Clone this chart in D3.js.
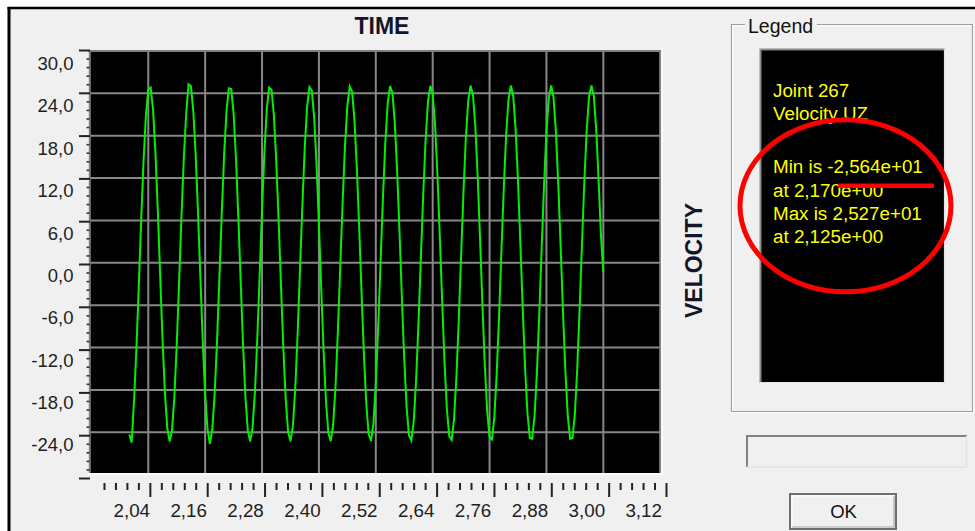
<!DOCTYPE html>
<html>
<head>
<meta charset="utf-8">
<script src="https://cdn.jsdelivr.net/npm/d3@7"></script>
<style>
  html, body { margin: 0; padding: 0; background: #ffffff; }
  svg { display: block; font-family: "Liberation Sans", Arial, sans-serif; }
</style>
</head>
<body>
<svg id="chart" width="975" height="531"></svg>
<script>
// Joint 267 vertical velocity history, sampled every 0.005 s from t = 2.000 s
const sampleStart = 2.0;
const sampleStep = 0.005;
const velocity = [
  -24.30, -25.45, -19.38, -12.17, -3.30, 5.97, 14.40, 20.87, 24.51, 24.81, 21.74, 15.71, 7.55, -1.65, -10.69, -18.28, -23.37,
  -25.29, -23.77, -19.02, -11.68, -2.75, 6.50, 14.84, 21.17, 25.27, 25.02, 21.46, 15.28, 7.02, -2.21, -11.19, -18.65, -23.58,
  -25.64, -23.58, -18.65, -11.19, -2.21, 7.02, 15.28, 21.46, 24.72, 24.62, 21.17, 14.84, 6.50, -2.75, -11.68, -19.02, -23.77,
  -25.29, -23.37, -18.28, -10.69, -1.65, 7.55, 15.71, 21.74, 24.81, 24.51, 20.87, 14.40, 5.97, -3.30, -12.17, -19.38, -23.96,
  -25.28, -23.16, -17.89, -10.19, -1.10, 8.07, 16.13, 22.01, 24.89, 24.38, 20.56, 13.94, 5.43, -3.85, -12.65, -19.73, -24.13,
  -25.25, -22.93, -17.50, -9.68, -0.55, 8.58, 16.55, 22.26, 24.95, 24.24, 20.24, 13.49, 4.90, -4.39, -13.13, -20.07, -24.29,
  -25.20, -22.69, -17.09, -9.17, 0.00, 9.10, 16.96, 22.51, 25.00, 24.10, 19.91, 13.02, 4.36, -4.94, -13.59, -20.40, -24.44,
  -25.15, -22.44, -16.68, -8.65, 0.55, 9.61, 17.36, 22.75, 25.05, 23.94, 19.57, 12.55, 3.82, -5.48, -14.06, -20.72, -24.58,
  -25.08, -22.18, -16.26, -8.13, 1.09, 10.11, 17.75, 22.97, 25.08, 23.77, 19.23, 12.07, 3.28, -6.01, -14.51, -21.04, -24.70,
  -25.01, -21.91, -15.84, -7.61, 1.64, 10.61, 18.13, 23.19, 25.09, 23.59, 18.87, 11.59, 2.73, -6.55, -14.96, -21.34, -24.81,
  -24.92, -21.63, -15.40, -7.08, 2.19, 11.10, 18.51, 23.39, 25.10, 23.39, 18.51, 11.10, 2.19, -7.08, -15.40, -21.63, -24.92,
  -24.81, -21.34, -14.96, -6.55, 2.73, 11.59, 18.87, 23.59, 25.09, 23.60, 18.90, 11.80, 3.90, -1.30
];

const yTickValues = [30, 24, 18, 12, 6, 0, -6, -12, -18, -24];
const yTickLabels = ["30,0", "24,0", "18,0", "12,0", "6,0", "0,0", "-6,0", "-12,0", "-18,0", "-24,0"];
const xTickValues = [2.04, 2.16, 2.28, 2.40, 2.52, 2.64, 2.76, 2.88, 3.00, 3.12];
const xTickLabels = ["2,04", "2,16", "2,28", "2,40", "2,52", "2,64", "2,76", "2,88", "3,00", "3,12"];
const xDomain = [1.92, 3.12];
const yDomain = [-30, 30];
const titleText = "TIME";
const yTitleText = "VELOCITY";
const legendTitle = "Legend";
const legendHeader = ["Joint 267", "Velocity UZ"];
const buttonText = "OK";

const svg = d3.select("#chart");

// window background and frame
svg.append("rect").attr("width", 975).attr("height", 531).attr("fill", "#ffffff");
svg.append("rect").attr("x", 9).attr("y", 8).attr("width", 966).attr("height", 523).attr("fill", "#f0f0f0");
svg.append("line").attr("x1", 7.5).attr("x2", 975).attr("y1", 8).attr("y2", 8)
  .attr("stroke", "#000").attr("stroke-width", 2.5);
svg.append("line").attr("x1", 9).attr("x2", 9).attr("y1", 7).attr("y2", 531)
  .attr("stroke", "#000").attr("stroke-width", 3);

// scales: data placement and the (slightly wider) tick rulers
const x = d3.scaleLinear().domain(xDomain).range([91.4, 660.2]);
const y = d3.scaleLinear().domain(yDomain).range([474.7, 50.9]);
const xRuler = d3.scaleLinear().domain(xDomain).range([92.5, 666]);
const yRuler = d3.scaleLinear().domain(yDomain).range([478, 50]);

// plot background
const plotL = 89, plotR = 661, plotT = 50, plotB = 473;
svg.append("rect").attr("x", plotL).attr("y", plotT).attr("width", plotR - plotL).attr("height", plotB - plotT)
  .attr("fill", "#000");

// grid
const grid = svg.append("g").attr("stroke", "#878787").attr("stroke-width", 2);
grid.selectAll("line.h").data(yTickValues.filter(v => v !== 30)).join("line")
  .attr("x1", plotL).attr("x2", plotR).attr("y1", d => y(d)).attr("y2", d => y(d));
grid.selectAll("line.v").data(xTickValues).join("line")
  .attr("x1", d => x(d)).attr("x2", d => x(d)).attr("y1", plotT).attr("y2", plotB);

// sunken border of the plot
svg.append("line").attr("x1", plotL - 1).attr("x2", plotR).attr("y1", 51).attr("y2", 51)
  .attr("stroke", "#7f7f7f").attr("stroke-width", 2);
svg.append("line").attr("x1", 89.8).attr("x2", 89.8).attr("y1", 50).attr("y2", plotB)
  .attr("stroke", "#7f7f7f").attr("stroke-width", 2);
svg.append("line").attr("x1", plotL - 1).attr("x2", 663).attr("y1", 474).attr("y2", 474)
  .attr("stroke", "#ffffff").attr("stroke-width", 1.5);
svg.append("line").attr("x1", 662).attr("x2", 662).attr("y1", 48).attr("y2", 475)
  .attr("stroke", "#ffffff").attr("stroke-width", 1.5);

// velocity trace
const samples = velocity.map((v, i) => ({ t: sampleStart + i * sampleStep, v }));
svg.append("defs").append("clipPath").attr("id", "plotClip")
  .append("rect").attr("x", 91).attr("y", 52).attr("width", plotR - 91).attr("height", plotB - 52);
svg.append("path")
  .datum(samples)
  .attr("clip-path", "url(#plotClip)")
  .attr("fill", "none")
  .attr("stroke", "#00f000")
  .attr("stroke-width", 2)
  .attr("stroke-linejoin", "miter")
  .attr("d", d3.line().x(d => x(d.t)).y(d => y(d.v)));

// y ruler ticks
const yMinor = d3.range(0, 51).map(i => -30 + i * 1.2).filter((v, i) => i % 5 !== 0);
const yMajor = d3.range(0, 11).map(i => -30 + i * 6);
svg.append("g").attr("transform", "translate(90,0)")
  .call(d3.axisLeft(yRuler).tickValues(yMajor).tickSize(11).tickFormat(""))
  .call(s => s.select(".domain").remove())
  .call(s => s.selectAll("line").attr("stroke", "#222").attr("stroke-width", 2));
svg.append("g").attr("transform", "translate(89.5,0)")
  .call(d3.axisLeft(yRuler).tickValues(yMinor).tickSize(3).tickFormat(""))
  .call(s => s.select(".domain").remove())
  .call(s => s.selectAll("line").attr("stroke", "#333").attr("stroke-width", 1.6));

// y labels
svg.append("g").selectAll("text").data(yTickValues).join("text")
  .attr("x", 73.5).attr("y", d => y(d) + 12.5).attr("dy", "0.36em")
  .attr("text-anchor", "end").attr("font-size", 18.5).attr("fill", "#1e1e1e")
  .text((d, i) => yTickLabels[i]);

// x ruler ticks
const xMinor = d3.range(1, 50).filter(i => i % 5 !== 0).map(i => xDomain[0] + i * 0.024);
svg.append("g").attr("transform", "translate(0,483)")
  .call(d3.axisBottom(xRuler).tickValues(xTickValues).tickSize(14).tickFormat(""))
  .call(s => s.select(".domain").remove())
  .call(s => s.selectAll("line").attr("stroke", "#222").attr("stroke-width", 2));
svg.append("g").attr("transform", "translate(0,483)")
  .call(d3.axisBottom(xRuler).tickValues(xMinor).tickSize(7).tickFormat(""))
  .call(s => s.select(".domain").remove())
  .call(s => s.selectAll("line").attr("stroke", "#222").attr("stroke-width", 2));

// x labels
svg.append("g").selectAll("text").data(xTickValues).join("text")
  .attr("x", d => x(d) - 16.5).attr("y", 516.5)
  .attr("text-anchor", "middle").attr("font-size", 18.8).attr("fill", "#1e1e1e")
  .text((d, i) => xTickLabels[i]);

// titles
svg.append("text").attr("x", 382).attr("y", 34).attr("text-anchor", "middle")
  .attr("font-size", 23).attr("font-weight", "bold").attr("fill", "#15152a").text(titleText);
svg.append("text").attr("transform", "translate(701.5,260.5) rotate(-90)").attr("text-anchor", "middle")
  .attr("font-size", 23).attr("font-weight", "bold").attr("fill", "#15152a").text(yTitleText);

// legend group box
const gb = d3.path();
gb.moveTo(745, 24.5); gb.lineTo(731.5, 24.5); gb.lineTo(731.5, 411.5);
gb.lineTo(972.5, 411.5); gb.lineTo(972.5, 24.5); gb.lineTo(817, 24.5);
svg.append("path").attr("d", gb.toString()).attr("fill", "none").attr("stroke", "#a0a0a0").attr("stroke-width", 1.2);
const gb2 = d3.path();
gb2.moveTo(745, 25.7); gb2.lineTo(732.7, 25.7); gb2.lineTo(732.7, 410.3);
gb2.moveTo(730.5, 412.7); gb2.lineTo(973.7, 412.7); gb2.lineTo(973.7, 23.5);
gb2.moveTo(971.3, 25.7); gb2.lineTo(817, 25.7);
svg.append("path").attr("d", gb2.toString()).attr("fill", "none").attr("stroke", "#ffffff").attr("stroke-width", 1);
svg.append("text").attr("x", 748).attr("y", 32.7).attr("font-size", 19.5).attr("fill", "#111").text(legendTitle);

// legend panel
svg.append("rect").attr("x", 761).attr("y", 49).attr("width", 183).attr("height", 333).attr("fill", "#000");
svg.append("path").attr("d", "M760.5,383 L760.5,49.5 L945,49.5").attr("fill", "none")
  .attr("stroke", "#8a8a8a").attr("stroke-width", 2);
svg.append("path").attr("d", "M760,382.5 L944.5,382.5 L944.5,49").attr("fill", "none")
  .attr("stroke", "#e4e4e4").attr("stroke-width", 1.2);

function sci(v) {
  const [m, e] = v.toExponential(3).split("e");
  return m.replace(".", ",") + "e" + e[0] + e.slice(1).padStart(2, "0");
}
const iMin = d3.minIndex(velocity);
const iMax = d3.maxIndex(velocity);
const legendLines = [
  legendHeader[0],
  legendHeader[1],
  "Min is " + sci(velocity[iMin]),
  "at " + sci(samples[iMin].t),
  "Max is " + sci(velocity[iMax]),
  "at " + sci(samples[iMax].t)
];
const legendBaselines = [96.5, 119.5, 173, 196.5, 219.5, 242.5];
svg.append("g").selectAll("text").data(legendLines).join("text")
  .attr("x", 773).attr("y", (d, i) => legendBaselines[i])
  .attr("font-size", 18.8).attr("fill", "#ffff00").text(d => d);

// empty status field
svg.append("rect").attr("x", 746).attr("y", 435).attr("width", 221).attr("height", 32).attr("fill", "#f0f0f0");
svg.append("path").attr("d", "M747,467 L747,436 L967,436").attr("fill", "none")
  .attr("stroke", "#828282").attr("stroke-width", 2);
svg.append("path").attr("d", "M747,467 L966.5,467 L966.5,436").attr("fill", "none")
  .attr("stroke", "#e2e2e2").attr("stroke-width", 1.4);

// OK button
svg.append("rect").attr("x", 790).attr("y", 494).attr("width", 106).attr("height", 35)
  .attr("fill", "#f0f0f0").attr("stroke", "#6e6e6e").attr("stroke-width", 2);
svg.append("path").attr("d", "M792,527 L792,496 L894,496").attr("fill", "none")
  .attr("stroke", "#ffffff").attr("stroke-width", 1.2);
svg.append("path").attr("d", "M792,527 L894,527 L894,496").attr("fill", "none")
  .attr("stroke", "#a8a8a8").attr("stroke-width", 1.2);
svg.append("text").attr("x", 843.5).attr("y", 518).attr("text-anchor", "middle")
  .attr("font-size", 18.5).attr("fill", "#111").text(buttonText);

// red highlight around the extreme values
svg.append("ellipse").attr("cx", 845.5).attr("cy", 205.8).attr("rx", 105.5).attr("ry", 86)
  .attr("fill", "none").attr("stroke", "#ff0000").attr("stroke-width", 5);
svg.append("line").attr("x1", 838).attr("x2", 934).attr("y1", 185.8).attr("y2", 185.8)
  .attr("stroke", "#ff0000").attr("stroke-width", 4.5);
</script>
</body>
</html>
